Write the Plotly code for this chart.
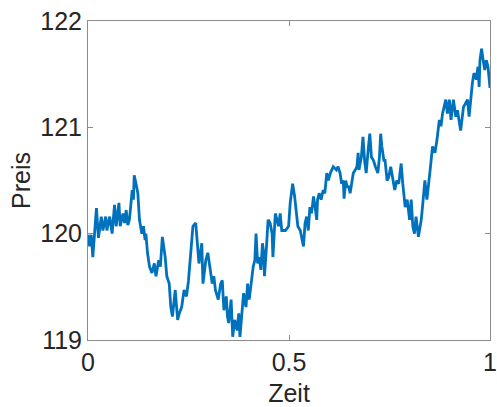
import plotly.graph_objects as go

# Simulated price path sampled over the unit time interval
zeit = [0, 0.004, 0.008, 0.012, 0.021, 0.026, 0.033, 0.037, 0.044, 0.047,
        0.054, 0.060, 0.066, 0.070, 0.077, 0.080, 0.087, 0.091, 0.095, 0.099,
        0.103, 0.110, 0.113, 0.115, 0.121, 0.124, 0.128, 0.134, 0.138, 0.142,
        0.144, 0.148, 0.153, 0.159, 0.165, 0.169, 0.176, 0.180, 0.185, 0.192,
        0.196, 0.202, 0.206, 0.210, 0.217, 0.223, 0.227, 0.233, 0.239, 0.245,
        0.250, 0.256, 0.261, 0.268, 0.272, 0.276, 0.283, 0.286, 0.293, 0.298,
        0.303, 0.309, 0.313, 0.317, 0.324, 0.330, 0.334, 0.338, 0.344, 0.347,
        0.350, 0.356, 0.360, 0.365, 0.371, 0.375, 0.378, 0.383, 0.387, 0.393,
        0.397, 0.401, 0.406, 0.411, 0.415, 0.418, 0.422, 0.426, 0.430, 0.434,
        0.437, 0.439, 0.444, 0.448, 0.453, 0.458, 0.460, 0.466, 0.470, 0.474,
        0.478, 0.482, 0.491, 0.499, 0.503, 0.509, 0.514, 0.518, 0.522, 0.528,
        0.532, 0.536, 0.540, 0.544, 0.548, 0.552, 0.556, 0.561, 0.565, 0.569,
        0.571, 0.575, 0.580, 0.585, 0.589, 0.594, 0.598, 0.603, 0.610, 0.618,
        0.622, 0.627, 0.631, 0.635, 0.637, 0.641, 0.645, 0.649, 0.652, 0.655,
        0.660, 0.665, 0.669, 0.672, 0.674, 0.680, 0.684, 0.688, 0.692, 0.697,
        0.701, 0.705, 0.710, 0.715, 0.721, 0.725, 0.728, 0.731, 0.736, 0.739,
        0.744, 0.748, 0.753, 0.763, 0.768, 0.773, 0.779, 0.783, 0.789, 0.794,
        0.800, 0.804, 0.808, 0.812, 0.816, 0.822, 0.829, 0.833, 0.838, 0.843,
        0.847, 0.852, 0.857, 0.863, 0.868, 0.874, 0.878, 0.882, 0.890, 0.894,
        0.899, 0.903, 0.909, 0.915, 0.919, 0.927, 0.934, 0.940, 0.944, 0.948,
        0.952, 0.956, 0.960, 0.966, 0.970, 0.973, 0.975, 0.979, 0.983, 0.987,
        0.991, 0.995, 1.0]

preis = [119.99, 119.88, 119.99, 119.78, 120.24, 119.96, 120.16, 120.03, 120.16, 120.03,
         120.16, 120.00, 120.27, 120.07, 120.29, 120.07, 120.19, 120.10, 120.22, 120.08,
         120.13, 120.41, 120.32, 120.55, 120.44, 120.38, 120.13, 120.00, 120.07, 119.94,
         120.00, 119.82, 119.69, 119.63, 119.72, 119.60, 119.75, 119.69, 119.97, 119.78,
         119.60, 119.53, 119.31, 119.22, 119.47, 119.19, 119.25, 119.31, 119.47, 119.41,
         119.56, 119.88, 120.07, 120.10, 119.94, 119.72, 119.91, 119.53, 119.75, 119.82,
         119.69, 119.53, 119.60, 119.47, 119.38, 119.53, 119.56, 119.28, 119.41, 119.22,
         119.16, 119.38, 119.03, 119.19, 119.09, 119.25, 119.03, 119.25, 119.44, 119.31,
         119.53, 119.38, 119.56, 119.69, 119.75, 120.00, 119.72, 119.78, 119.66, 119.91,
         119.82, 119.60, 119.88, 120.13, 120.10, 120.00, 119.78, 120.19, 120.13, 120.07,
         120.19, 120.03, 120.03, 120.07, 120.29, 120.47, 120.35, 120.19, 120.07, 120.03,
         119.94, 119.88, 120.10, 120.16, 120.03, 120.25, 120.19, 120.35, 120.25, 120.13,
         120.32, 120.38, 120.32, 120.41, 120.38, 120.57, 120.50, 120.57, 120.63, 120.60,
         120.63, 120.57, 120.47, 120.50, 120.33, 120.50, 120.44, 120.44, 120.38, 120.47,
         120.57, 120.60, 120.63, 120.76, 120.60, 120.72, 120.91, 120.69, 120.57, 120.79,
         120.94, 120.72, 120.69, 120.63, 120.57, 120.72, 120.94, 120.82, 120.69, 120.69,
         120.50, 120.53, 120.63, 120.41, 120.50, 120.47, 120.66, 120.47, 120.25, 120.32,
         120.13, 120.32, 120.07, 120.00, 120.16, 119.97, 120.13, 120.29, 120.50, 120.32,
         120.44, 120.63, 120.82, 120.76, 120.88, 121.07, 121.01, 121.13, 121.26, 121.13,
         121.26, 121.07, 121.26, 121.10, 121.16, 120.97, 121.19, 121.23, 121.26, 121.10,
         121.29, 121.41, 121.51, 121.45, 121.57, 121.38, 121.63, 121.74, 121.63, 121.54,
         121.63, 121.57, 121.37]

fig = go.Figure(
    go.Scatter(
        x=zeit,
        y=preis,
        mode="lines",
        line=dict(color="#0072BD", width=2.8),
        hoverinfo="skip",
    )
)

axis_common = dict(
    showline=True,
    mirror="ticks",
    linecolor="#8c8c8c",
    linewidth=1,
    ticks="inside",
    ticklen=5,
    tickcolor="#8c8c8c",
    showgrid=False,
    zeroline=False,
    ticklabeloverflow="allow",
    tickfont=dict(family="Liberation Sans, Arial, sans-serif", size=25, color="#262626"),
)

fig.update_layout(
    width=497,
    height=407,
    margin=dict(l=88, r=7, t=21, b=67),
    paper_bgcolor="white",
    plot_bgcolor="white",
    showlegend=False,
    xaxis=dict(
        range=[0, 1],
        tickvals=[0, 0.5, 1],
        ticktext=["0", "0.5", "1"],
        title=dict(text="Zeit", standoff=17,
                   font=dict(family="Liberation Sans, Arial, sans-serif", size=25, color="#262626")),
        automargin=False,
        **axis_common,
    ),
    yaxis=dict(
        range=[119, 122],
        tickvals=[119, 120, 121, 122],
        title=dict(text="Preis", standoff=2,
                   font=dict(family="Liberation Sans, Arial, sans-serif", size=25, color="#262626")),
        automargin=False,
        **axis_common,
    ),
)

fig.write_html("out.html")
